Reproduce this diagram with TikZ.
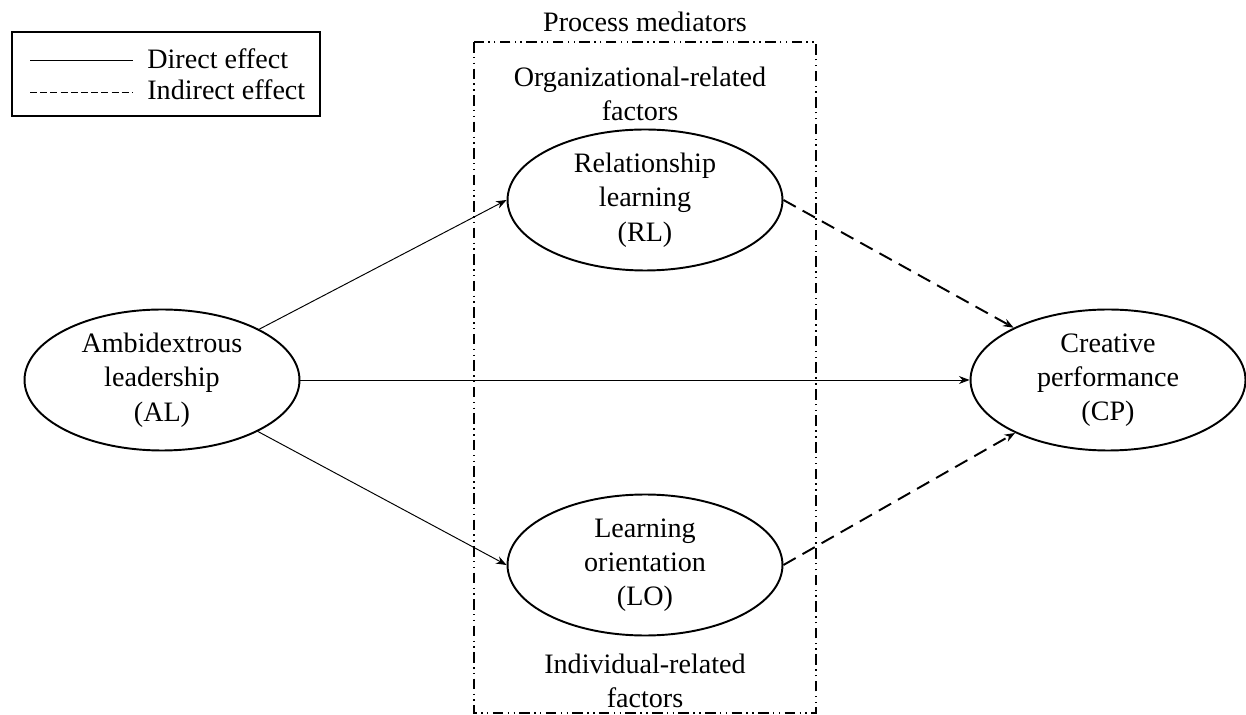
\documentclass[tikz,border=0pt]{standalone}
\usepackage{fontspec}
\setmainfont{Liberation Serif}
\usetikzlibrary{shapes.geometric,arrows.meta}

\tikzset{
    construct/.style={ellipse, draw, line width=1.1pt, minimum width=5.5cm, minimum height=2.82cm, inner sep=0pt, align=center},
    direct/.style={-{Stealth[length=6pt,width=4.5pt]}, line width=0.55pt},
    indirect/.style={-{Stealth[length=6pt,width=4.5pt]}, line width=1.1pt, dash pattern=on 8pt off 4.5pt},
    mediatorbox/.style={line width=0.8pt, dash pattern=on 6pt off 2.5pt on 0.8pt off 2.5pt on 0.8pt off 2.5pt},
    caption/.style={align=center, inner sep=0pt}
}

\begin{document}
\begin{tikzpicture}[x=0.02cm, y=-0.02cm, font=\fontsize{16}{19.5}\selectfont]

    % constants
    \def\boxl{474}
    \def\boxr{816}
    \def\boxt{42}
    \def\boxb{713}

    \useasboundingbox (0,0) rectangle (1246,715);

    % legend
    \draw [line width=0.6pt] (12,32) rectangle (320,116);
    \coordinate (ds) at (30,60);
    \coordinate (de) at (133,60);
    \coordinate (is) at (30,92);
    \coordinate (ie) at (133,92);
    \draw [line width=0.5pt] (ds) -- (de);
    \draw [line width=0.5pt, dash pattern=on 4pt off 1.8pt] (is) -- (ie);
    \node [caption, anchor=west] (dlabel) at (147,59) {Direct effect};
    \node [caption, anchor=west] (ilabel) at (147,90) {Indirect effect};

    % process mediators frame
    \draw [mediatorbox] (\boxl,\boxt) rectangle (\boxr,\boxb);
    \node [caption] (mediators) at (645,22) {Process mediators};
    \node [caption] (orgfactors) at (640,94) {Organizational-related\\factors};
    \node [caption] (indfactors) at (645,681) {Individual-related\\factors};

    % constructs
    \node [construct] (AL) at (162,380) {Ambidextrous\\leadership\\(AL)};
    \node [construct] (RL) at (645,200) {Relationship\\learning\\(RL)};
    \node [construct] (LO) at (645,565) {Learning\\orientation\\(LO)};
    \node [construct] (CP) at (1108,380) {Creative\\performance\\(CP)};

    % effects
    \draw [direct] (AL) -- (RL.west);
    \draw [direct] (AL) -- (CP);
    \draw [direct] (AL) -- (LO.west);
    \draw [indirect] (RL.east) -- (CP);
    \draw [indirect] (LO.east) -- (CP);

\end{tikzpicture}
\end{document}
